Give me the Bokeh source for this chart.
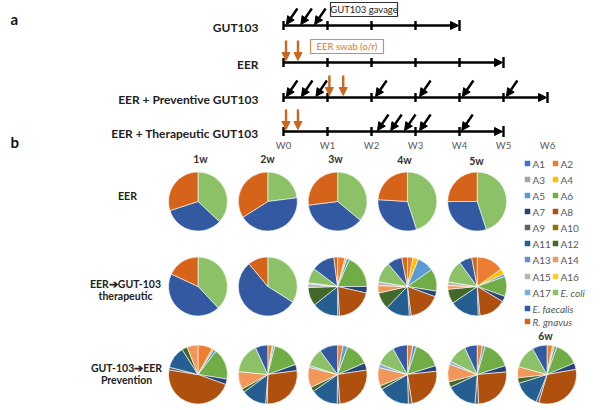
import math
from bokeh.plotting import figure
from bokeh.models import Range1d, ColumnDataSource, Arrow, NormalHead
from bokeh.core.properties import value
from bokeh.embed import file_html
from bokeh.resources import INLINE

# ---------------- data ----------------
species = ["A1", "A2", "A3", "A4", "A5", "A6", "A7", "A8", "A9", "A10",
           "A11", "A12", "A13", "A14", "A15", "A16", "A17",
           "E. coli", "E. faecalis", "R. gnavus"]
species_colors = ["#4472C4", "#ED7D31", "#A5A5A5", "#FFC000", "#5B9BD5", "#70AD47",
                  "#264478", "#B0500F", "#636363", "#997300", "#255E91", "#43682B",
                  "#698ED0", "#F1975A", "#B7B7B7", "#FFCD33", "#7CAFDD",
                  "#8CC168", "#335AA1", "#D5631A"]

week_labels = ["W0", "W1", "W2", "W3", "W4", "W5", "W6"]
timeline_names = ["GUT103", "EER", "EER + Preventive GUT103", "EER + Therapeutic GUT103"]
timeline_weeks = [4, 5, 6, 5]
gavage_days = [[0.3, 2.6, 4.8],
               [],
               [0.3, 2.7, 5.0, 14.5, 21.5, 28.3, 35.3],
               [14.8, 16.9, 19.1, 21.5, 28.2]]
swab_days = [[], [0.4, 2.3], [7.3, 9.5], [0.4, 2.3]]

pie_titles = ["1w", "2w", "3w", "4w", "5w", "6w"]
row_labels = [["EER"], ["EER\u2794GUT-103", "therapeutic"], ["GUT-103\u2794EER", "Prevention"]]

# relative abundance (%), order = species list
eer_1w = [0, 0, 0, 0, 0, 0, 0, 0, 0, 0, 0, 0, 0, 0, 0, 0, 0, 37, 33, 30]
eer_2w = [0, 0, 0, 0, 0, 0, 0, 0, 0, 0, 0, 0, 0, 0, 0, 0, 0, 23, 43, 34]
eer_3w = [0, 0, 0, 0, 0, 0, 0, 0, 0, 0, 0, 0, 0, 0, 0, 0, 0, 36, 37, 27]
eer_4w = [0, 0, 0, 0, 0, 0, 0, 0, 0, 0, 0, 0, 0, 0, 0, 0, 0, 45, 31, 24]
eer_5w = [0, 0, 0, 0, 0, 0, 0, 0, 0, 0, 0, 0, 0, 0, 0, 0, 0, 45, 30, 25]

ther_1w = [0, 0, 0, 0, 0, 0, 0, 0, 0, 0, 0, 0, 0, 0, 0, 0, 0, 38, 44, 18]
ther_2w = [0, 0, 0, 0, 0, 0, 0, 0, 0, 0, 0, 0, 0, 0, 0, 0, 0, 34, 55, 11]
ther_3w = [0, 4, 0, 1, 1.5, 18, 3.5, 20, 1, 0, 14, 10, 0, 0, 2, 0, 0.5, 8, 12.5, 2]
ther_4w = [0, 3, 0, 3, 9, 12, 3, 17, 1, 0, 13, 9, 0, 4, 2, 0, 0, 11, 8, 3]
ther_5w = [0, 15, 0, 3, 1.5, 11, 3, 15, 1, 0, 16, 8, 0, 2, 2, 0, 0, 12.5, 7, 3]

prev_1w = [0, 8, 0, 1, 1.5, 17, 3, 47, 1.5, 0, 12, 3, 0, 6, 0, 0, 0, 0, 0, 0]
prev_2w = [0, 2.5, 0.5, 0, 1, 16, 3.5, 28, 1, 0, 14, 2, 0, 10, 0, 0, 0, 17, 7, 0]
prev_3w = [0, 3, 0, 0, 2.5, 13, 4, 26, 1.5, 0, 15, 2.5, 0, 11, 0, 0, 1, 10, 10, 0]
prev_4w = [0, 3, 0, 0, 2, 15, 3, 24, 2, 0, 17, 2, 0, 10, 0, 0, 2, 11, 8, 0]
prev_5w = [0, 3, 0, 0, 1.5, 16, 3.5, 26, 2, 0, 17, 3, 0, 10, 0, 0, 1.5, 11, 7, 0]
prev_6w = [0, 3, 0, 1, 1.5, 13, 3.5, 32, 1.5, 0, 14, 3, 0, 6, 0, 0, 0, 12.5, 8, 0]

pie_rows = [[eer_1w, eer_2w, eer_3w, eer_4w, eer_5w],
            [ther_1w, ther_2w, ther_3w, ther_4w, ther_5w],
            [prev_1w, prev_2w, prev_3w, prev_4w, prev_5w, prev_6w]]

# ---------------- figure (data units = page pixels) ----------------
p = figure(width=600, height=410, x_range=Range1d(0, 600), y_range=Range1d(0, 410),
           output_backend="svg", toolbar_location=None, min_border=0,
           x_axis_location=None, y_axis_location=None, outline_line_color=None)
p.grid.visible = False
p.background_fill_color = "white"


def Y(v):
    return 410 - v


FONT = value("Lato")


def txt(xs, ys, texts, size, style="normal", color="#222222", align="center", font=FONT):
    p.text(x=xs, y=[Y(v) for v in ys], text=texts, text_font=font, text_font_size=size,
           text_font_style=style, text_color=color, text_align=align, text_baseline="middle")


# ---------------- panel a: timelines ----------------
X0, WK = 283.0, 44.0
row_y = [25, 62, 97, 131]


def xd(day):
    return X0 + day * WK / 7.0


tick_x0, tick_y0, tick_x1, tick_y1 = [], [], [], []
bar_x0, bar_y0, bar_x1, bar_y1 = [], [], [], []
for i, n in enumerate(timeline_weeks):
    y = row_y[i]
    end = xd(n * 7)
    p.add_layout(Arrow(x_start=X0, y_start=Y(y), x_end=end - 1, y_end=Y(y),
                       line_color="black", line_width=2.4,
                       end=NormalHead(size=8, fill_color="black", line_color="black")))
    for w in range(n):
        tick_x0.append(xd(w * 7)); tick_x1.append(xd(w * 7))
        tick_y0.append(Y(y - 4.5)); tick_y1.append(Y(y + 4.5))
    bar_x0.append(end); bar_x1.append(end)
    bar_y0.append(Y(y - 5.5)); bar_y1.append(Y(y + 5.5))
p.segment(x0=tick_x0, y0=tick_y0, x1=tick_x1, y1=tick_y1, line_color="black", line_width=2.4)
p.segment(x0=bar_x0, y0=bar_y0, x1=bar_x1, y1=bar_y1, line_color="black", line_width=2.4)

# gavage arrows (black diagonal)
g = dict(x0=[], y0=[], x1=[], y1=[])
for i, days in enumerate(gavage_days):
    for d in days:
        tip = xd(d) + 1
        g["x0"].append(tip + 11); g["y0"].append(Y(row_y[i] - 17))
        g["x1"].append(tip); g["y1"].append(Y(row_y[i] - 1))
p.add_layout(Arrow(x_start="x0", y_start="y0", x_end="x1", y_end="y1",
                   source=ColumnDataSource(g), line_color="black", line_width=2.4,
                   end=NormalHead(size=8, fill_color="black", line_color="black")))

# swab arrows (orange vertical)
ORANGE = "#C9661F"
s = dict(x0=[], y0=[], x1=[], y1=[])
for i, days in enumerate(swab_days):
    for d in days:
        xx = xd(d)
        s["x0"].append(xx); s["y0"].append(Y(row_y[i] - 22))
        s["x1"].append(xx); s["y1"].append(Y(row_y[i] - 2))
p.add_layout(Arrow(x_start="x0", y_start="y0", x_end="x1", y_end="y1",
                   source=ColumnDataSource(s), line_color=ORANGE, line_width=2.4,
                   end=NormalHead(size=8, fill_color=ORANGE, line_color=ORANGE)))

# info boxes
p.quad(left=[330], right=[397], top=[Y(2)], bottom=[Y(16)], fill_color="white",
       line_color="#333333", line_width=1.2)
txt([363.5], [9], ["GUT103 gavage"], "9.5px", color="#222222")
p.quad(left=[310], right=[383], top=[Y(39)], bottom=[Y(53)], fill_color="white",
       line_color="#D98A4E", line_width=1.2)
txt([346.5], [46], ["EER swab (o/r)"], "9.5px", color="#D07A35")

# timeline names
txt([258] * 4, [r + 2 for r in row_y], timeline_names, "12px", style="bold", align="right")
# week labels
txt([xd(w * 7) for w in range(7)], [145] * 7, week_labels, "9.5px", color="#595959")

# panel letters
txt([10, 10], [18, 141], ["a", "b"], "15px", style="bold", color="#111111", align="left")

# ---------------- panel b: pies ----------------
pie_x = [197.5, 267.3, 337.1, 406.9, 476.7, 546.5]
pie_y = [201, 286, 374]
R = 29.5
w = dict(x=[], y=[], start=[], end=[], color=[])
for r, row in enumerate(pie_rows):
    for c, vals in enumerate(row):
        tot = float(sum(vals))
        cum = 0.0
        for k, v in enumerate(vals):
            if v <= 0:
                continue
            a0 = cum / tot * 360.0
            cum += v
            a1 = cum / tot * 360.0
            w["x"].append(pie_x[c]); w["y"].append(Y(pie_y[r]))
            w["start"].append(math.radians(90 - a1))
            w["end"].append(math.radians(90 - a0))
            w["color"].append(species_colors[k])
p.wedge(x="x", y="y", radius=R, start_angle="start", end_angle="end",
        fill_color="color", line_color="white", line_width=0.6,
        source=ColumnDataSource(w))

# column titles
txt([200, 267, 335, 404, 476, 545], [158, 158, 158, 159, 160, 335], pie_titles,
    "10.5px", style="bold", color="#333333")

# row labels
txt([127], [195], [row_labels[0][0]], "10.5px", style="bold")
txt([125, 125], [283, 295], row_labels[1], "10.5px", style="bold")
txt([126, 126], [367, 379], row_labels[2], "10.5px", style="bold")

# ---------------- legend ----------------
leg_rows_y = [163, 179, 195, 211, 227, 243, 259, 276, 292, 308, 321]
sq_x, sq_y, sq_c = [], [], []
n_x, n_y, n_t = [], [], []
i_x, i_y, i_t = [], [], []
for k, name in enumerate(species):
    if k < 18:
        row, col = k // 2, k % 2
    else:
        row, col = k - 9, 0
    xs = 527 if col == 0 else 555
    yy = leg_rows_y[row]
    sq_x.append(xs); sq_y.append(Y(yy)); sq_c.append(species_colors[k])
    if name.startswith("A"):
        n_x.append(xs + 5); n_y.append(yy); n_t.append(name)
    else:
        i_x.append(xs + 5); i_y.append(yy); i_t.append(name)
p.scatter(x=sq_x, y=sq_y, marker="square", size=5.5, fill_color=sq_c, line_color=None)
txt(n_x, n_y, n_t, "10px", color="#595959", align="left")
txt(i_x, i_y, i_t, "10px", style="italic", color="#595959", align="left")

open("out.html", "w").write(file_html(p, INLINE))
